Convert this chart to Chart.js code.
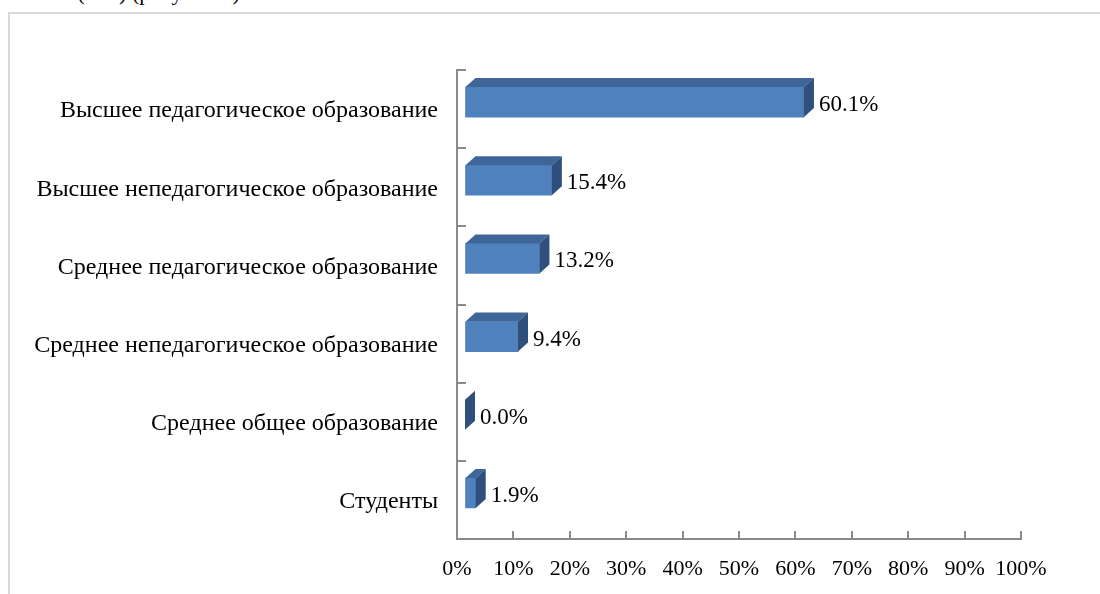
<!DOCTYPE html>
<html>
<head>
<meta charset="utf-8">
<script src="https://cdn.jsdelivr.net/npm/chart.js@4/dist/chart.umd.min.js"></script>
<style>
  html, body { margin: 0; padding: 0; background: #fff; overflow: hidden; width: 1100px; height: 594px; }
  #caption { position: absolute; left: 29px; top: -18px; font: 22px "Liberation Serif", "Times New Roman", serif; line-height: 22px; color: #000; white-space: nowrap; }
  #frame { position: absolute; left: 8px; top: 12px; width: 1200px; height: 700px; border-top: 2px solid #D9D9D9; border-left: 2px solid #D9D9D9; }
  #c { position: absolute; left: 0; top: 0; }
</style>
</head>
<body>
<div id="caption">ание (в %) (рисунок 4)</div>
<div id="frame"></div>
<canvas id="c" width="1100" height="594"></canvas>
<script>
const categories = [
  'Высшее педагогическое образование',
  'Высшее непедагогическое образование',
  'Среднее педагогическое образование',
  'Среднее непедагогическое образование',
  'Среднее общее образование',
  'Студенты'
];
const values = [60.1, 15.4, 13.2, 9.4, 0.0, 1.9];
const xTickValues = [0, 10, 20, 30, 40, 50, 60, 70, 80, 90, 100];

const FRONT = '#4F81BD', TOP = '#3E6698', SIDE = '#2F4F7C', AXIS = '#8A8A8A';
const DX = 10, DY = 9, SHIFT_X = 8, SHIFT_Y = -7;
const FAMILY = '"Liberation Serif", "Times New Roman", serif';
const TICK_FONT = { family: FAMILY, size: 22 };
const CAT_FONT = { family: FAMILY, size: 24 };
const VALUE_FONT_SIZE = 23;

const threeD = {
  id: 'threeD',
  beforeDatasetsDraw(chart) {
    chart.ctx.save();
    chart.ctx.translate(SHIFT_X, SHIFT_Y);
  },
  afterDatasetsDraw(chart) {
    const ctx = chart.ctx;
    const meta = chart.getDatasetMeta(0);
    meta.data.forEach((el, i) => {
      const p = el.getProps(['x', 'y', 'base', 'height'], true);
      const x0 = p.base, x1 = p.x, y1 = p.y - p.height / 2, y2 = p.y + p.height / 2;
      // top face
      ctx.fillStyle = TOP;
      ctx.beginPath();
      ctx.moveTo(x0, y1); ctx.lineTo(x0 + DX, y1 - DY); ctx.lineTo(x1 + DX, y1 - DY); ctx.lineTo(x1, y1);
      ctx.closePath(); ctx.fill();
      // side face
      ctx.fillStyle = SIDE;
      ctx.beginPath();
      ctx.moveTo(x1, y1); ctx.lineTo(x1 + DX, y1 - DY); ctx.lineTo(x1 + DX, y2 - DY); ctx.lineTo(x1, y2);
      ctx.closePath(); ctx.fill();
      // value label
      ctx.fillStyle = '#000';
      ctx.font = VALUE_FONT_SIZE + 'px ' + FAMILY;
      ctx.textAlign = 'left';
      ctx.textBaseline = 'middle';
      ctx.fillText(values[i].toFixed(1) + '%', x1 + DX + 5, p.y + 3);
    });
    ctx.restore();
  },
  afterDraw(chart) {
    const ctx = chart.ctx;
    const xs = chart.scales.x, ys = chart.scales.y;
    ctx.save();
    ctx.strokeStyle = AXIS;
    ctx.lineWidth = 2;
    ctx.beginPath();
    xTickValues.forEach(v => {
      const px = Math.round(xs.getPixelForValue(v));
      ctx.moveTo(px, xs.top); ctx.lineTo(px, xs.top - 8);
    });
    for (let i = 0; i <= categories.length; i++) {
      const py = Math.round(ys.getPixelForValue(i - 0.5));
      ctx.moveTo(ys.right, py); ctx.lineTo(ys.right + 9, py);
    }
    ctx.stroke();
    ctx.restore();
  }
};

new Chart(document.getElementById('c'), {
  type: 'bar',
  data: {
    labels: categories,
    datasets: [{ data: values, backgroundColor: FRONT, borderWidth: 0, barThickness: 30 }]
  },
  options: {
    indexAxis: 'y',
    responsive: false,
    animation: false,
    layout: { padding: { top: 70, right: 79, left: 0, bottom: 0 } },
    plugins: { legend: { display: false }, tooltip: { enabled: false } },
    scales: {
      x: {
        min: 0, max: 100,
        afterBuildTicks(s) { s.ticks = xTickValues.map(v => ({ value: v })); },
        ticks: { callback: v => v + '%', font: TICK_FONT, color: '#000', padding: 17, maxRotation: 0, autoSkip: false },
        grid: { drawOnChartArea: false, drawTicks: false },
        border: { color: AXIS, width: 2 },
        afterFit(s) { s.height = 55; }
      },
      y: {
        ticks: { font: CAT_FONT, color: '#000', padding: 19, labelOffset: 2 },
        grid: { drawOnChartArea: false, drawTicks: false },
        border: { color: AXIS, width: 2 },
        afterFit(s) { s.width = 457; }
      }
    }
  },
  plugins: [threeD]
});
</script>
</body>
</html>
